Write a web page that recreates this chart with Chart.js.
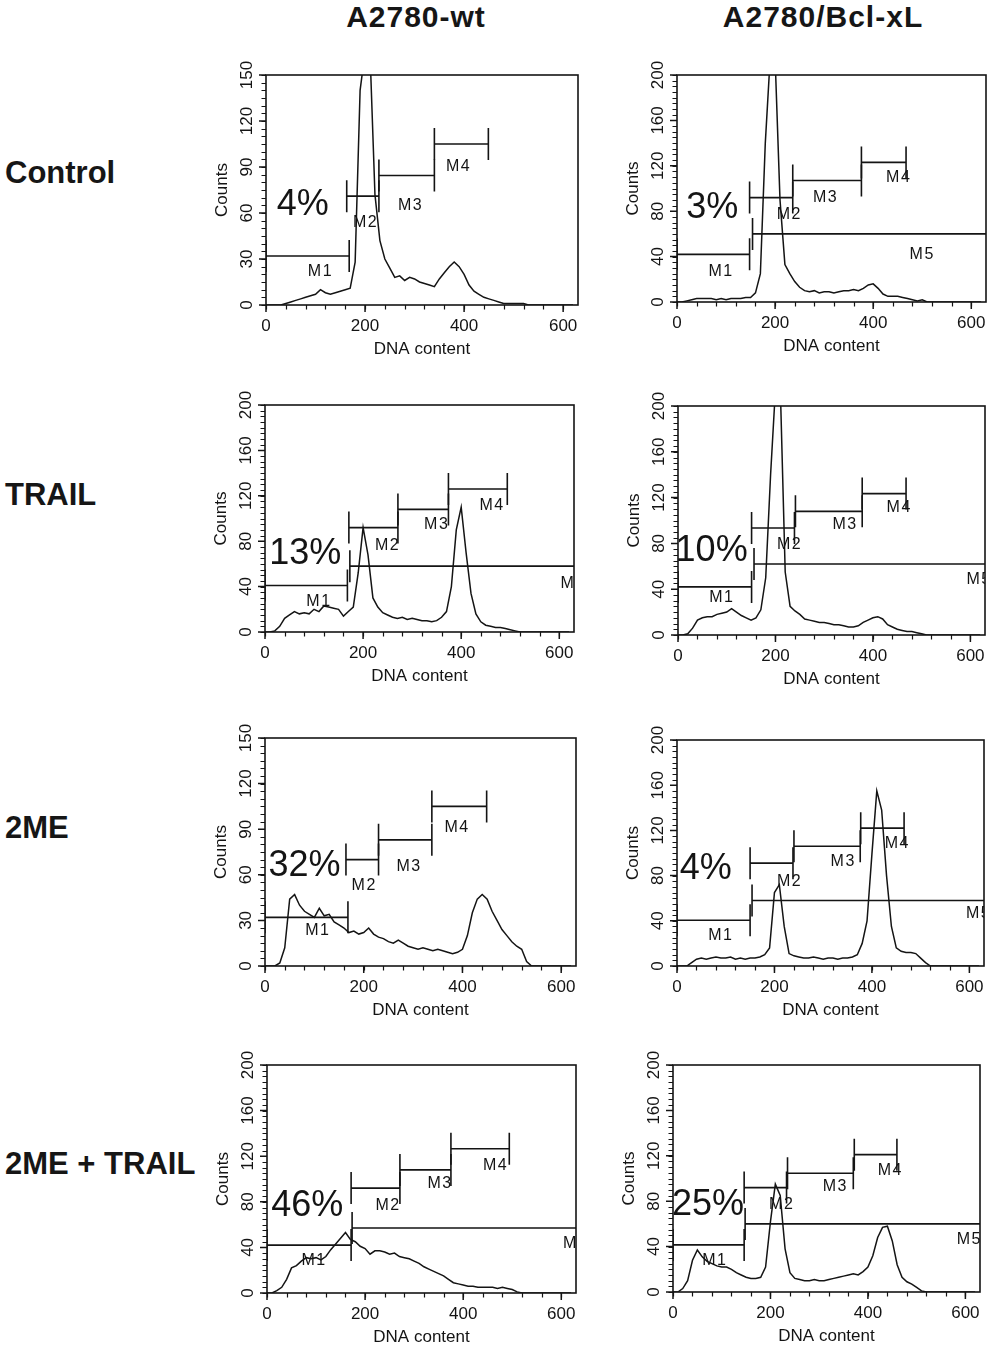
<!DOCTYPE html>
<html lang="en">
<head>
<meta charset="UTF-8">
<title>Cell cycle histograms</title>
<script src="https://cdn.jsdelivr.net/npm/chart.js"></script>
<style>
  html, body { margin: 0; padding: 0; background: #fff; }
  body { width: 991px; height: 1347px; position: relative; overflow: hidden;
         font-family: "Liberation Sans", Arial, Helvetica, sans-serif; color: #161616; }
  .head, .row { position: absolute; font-weight: bold; line-height: 1; white-space: nowrap; }
  .head { font-size: 30px; letter-spacing: 1px; transform: translateX(-50%); }
  .row { font-size: 31px; left: 5px; }
  canvas { position: absolute; }
</style>
</head>
<body>

<script>
// ---- data ----
const colNames = ['A2780-wt', 'A2780/Bcl-xL'];
const rowNames = ['Control', 'TRAIL', '2ME', '2ME + TRAIL'];

const channels = [0,10,20,30,40,50,60,70,80,90,100,110,120,130,140,150,160,170,180,190,
  200,210,220,230,240,250,260,270,280,290,300,310,320,330,340,350,360,370,380,390,
  400,410,420,430,440,450,460,470,480,490,500,510,520,530,540,550,560,570,580,590,
  600,610,620];

const xTicks = [0, 200, 400, 600];
const yTicks150 = [0, 30, 60, 90, 120, 150];
const yTicks200 = [0, 40, 80, 120, 160, 200];

// counts per channel
const ctrlWt  = [0,0,0,0,1,2,3,4,5,6, 7,10,8,7,8,9,10,11,28,140, 165,165,72,42,30,24,18,19,16,18, 17,15,14,13,12,17,21,25,28,25, 20,13,9,7,5,4,3,2,1,1, 1,1,1,0,0,0,0,0,0,0, 0,0,0];
const ctrlBcl = [0,0,1,2,3,3,3,3,2,3, 2,3,3,3,4,4,8,25,140,215, 215,90,33,25,18,13,10,9,10,8, 9,9,8,9,10,10,11,10,12,15, 16,12,7,5,5,5,4,3,2,1, 2,0,0,0,0,0,0,0,0,0, 0,0,0];
const trailWt  = [0,0,1,5,12,15,18,16,17,16, 20,18,23,22,21,20,14,18,22,52, 92,68,30,22,17,15,13,12,13,11, 12,11,10,10,9,10,13,18,40,90, 110,70,34,16,9,6,5,4,4,3, 2,1,0,0,0,0,0,0,0,0, 0,0,0];
const trailBcl = [0,0,1,6,13,15,16,16,18,19, 20,23,20,17,15,13,15,22,50,140, 215,215,55,25,21,18,14,13,12,11, 11,10,9,9,8,7,7,8,11,13, 15,16,14,9,7,5,4,3,3,2, 1,0,0,0,0,0,0,0,0,0, 0,0,0];
const meWt  = [0,0,0,2,12,44,47,40,36,34, 32,38,33,34,29,27,25,22,23,21, 22,25,21,19,18,16,15,17,15,13, 12,11,12,11,10,11,10,9,8,9, 11,20,35,44,47,44,36,30,24,20, 16,13,11,3,0,0,0,0,0,0, 0,0,0];
const meBcl = [0,0,0,3,6,7,6,7,8,7, 7,8,6,7,6,7,7,8,10,16, 65,72,35,11,9,8,7,7,8,7, 6,7,7,6,7,7,8,10,20,40, 99,155,138,80,35,16,13,12,12,11, 7,3,0,0,0,0,0,0,0,0, 0,0,0];
const meTrailWt  = [0,0,2,5,12,22,24,28,31,30, 31,29,32,38,43,48,53,47,45,41, 39,34,37,37,36,34,35,32,31,30, 28,26,23,21,19,17,15,12,9,8, 7,6,6,5,5,5,5,4,5,4, 3,1,0,0,0,0,0,0,0,0, 0,0,0];
const meTrailBcl = [0,0,3,10,28,37,31,27,25,23, 22,22,20,17,15,13,12,12,13,22, 62,95,85,38,17,12,11,10,10,11, 10,10,11,12,13,14,15,16,15,18, 22,32,48,57,58,45,24,13,9,7, 4,1,0,0,0,0,0,0,0,0, 0,0,0];

// marker gates: name, from, to, count level, label x, label count
const gatesCtrlWt = [['M1',0,168,32,110,22], ['M2',163,228,71,201,54], ['M3',228,340,84.5,292,65], ['M4',340,449,105,389,90]];
const gatesCtrlBcl = [['M1',0,148,42,90,27], ['M2',148,236,92,229,77], ['M3',236,376,107,303,92], ['M4',376,467,123,452,110], ['M5',154,1023,60,500,42]];
const gatesTrailWt = [['M1',0,168,41,110,27], ['M2',171,271,92,250,76], ['M3',271,374,108,350,95], ['M4',374,494,126,463,111], ['M5',173,1023,58,628,43]];
const gatesTrailBcl = [['M1',0,151,42,90,33], ['M2',151,239,93.5,229,79], ['M3',241,378,108,343,96], ['M4',378,468,123.5,454,111], ['M5',156,1023,62,618,48]];
const gatesMeWt = [['M1',0,168,32,107,23], ['M2',164,230,70,201,53], ['M3',230,338,83,292,65.5], ['M4',338,449,105,389,91]];
const gatesMeBcl = [['M1',0,150,40.5,90,26.6], ['M2',150,238,91,231,75], ['M3',240,376,106,341,92], ['M4',377,466,122,452,108], ['M5',154,1023,58,619,46]];
const gatesMeTrailWt = [['M1',0,171.5,42,96,28], ['M2',171.5,271,92,247,77], ['M3',271,375,108,353,95.6], ['M4',375,494,126.5,466,112], ['M5',173.5,1023,57,629,43]];
const gatesMeTrailBcl = [['M1',0,146,41.5,86,28], ['M2',146,233,92,223,77], ['M3',235,370,104.6,333,93], ['M4',372,459.5,121,446,107], ['M5',148,1023,60,608,46]];

const pctLabels = ['4%', '3%', '13%', '10%', '32%', '4%', '46%', '25%'];
const pctAt = [[74,65], [72,83], [82,68.5], [69,73], [80,65.5], [59,86], [82,76], [72,77]];

// ---- layout ----
const INK = '#141414';
const FONT = '"Liberation Sans", Arial, Helvetica, sans-serif';
const X_MAX = 630;
const X_MINOR = 40, Y_MINOR = 5;
const AXIS_W = 62, AXIS_H = 62, PAD_T = 18, PAD_R = 4, BAR = 16;

const headPos = [[416, 2], [823, 2]];
const rowTops = [157, 479, 812, 1148];

const panels = [
  { counts: ctrlWt,     yTicks: yTicks150, gates: gatesCtrlWt,     box: [266, 75, 578, 305] },
  { counts: ctrlBcl,    yTicks: yTicks200, gates: gatesCtrlBcl,    box: [677, 75, 986, 302] },
  { counts: trailWt,    yTicks: yTicks200, gates: gatesTrailWt,    box: [265, 405, 574, 632] },
  { counts: trailBcl,   yTicks: yTicks200, gates: gatesTrailBcl,   box: [678, 406, 985, 635] },
  { counts: meWt,       yTicks: yTicks150, gates: gatesMeWt,       box: [265, 738, 576, 966] },
  { counts: meBcl,      yTicks: yTicks200, gates: gatesMeBcl,      box: [677, 740, 984, 966] },
  { counts: meTrailWt,  yTicks: yTicks200, gates: gatesMeTrailWt,  box: [267, 1065, 576, 1293] },
  { counts: meTrailBcl, yTicks: yTicks200, gates: gatesMeTrailBcl, box: [673, 1065, 980, 1292] }
];

colNames.forEach((name, i) => {
  const d = document.createElement('div');
  d.className = 'head';
  d.textContent = name;
  d.style.left = headPos[i][0] + 'px';
  d.style.top = headPos[i][1] + 'px';
  document.body.appendChild(d);
});
rowNames.forEach((name, i) => {
  const d = document.createElement('div');
  d.className = 'row';
  d.textContent = name;
  d.style.top = rowTops[i] + 'px';
  document.body.appendChild(d);
});

// box, tick marks, rotated y labels, % text and the M gates
const flowPlugin = {
  id: 'flow',
  afterDatasetsDraw(chart, args, opts) {
    const { ctx, chartArea: a, scales: { x, y } } = chart;
    ctx.save();
    ctx.strokeStyle = INK;
    ctx.fillStyle = INK;

    ctx.lineWidth = 1.6;
    ctx.strokeRect(a.left, a.top, a.right - a.left, a.bottom - a.top);

    // small ticks along both axes
    ctx.lineWidth = 1.2;
    ctx.beginPath();
    for (let v = 0; v <= X_MAX; v += X_MINOR) {
      const px = Math.round(x.getPixelForValue(v)) + 0.5;
      ctx.moveTo(px, a.bottom); ctx.lineTo(px, a.bottom + 4.5);
    }
    const yTop = opts.yTicks[opts.yTicks.length - 1];
    for (let v = 0; v <= yTop; v += Y_MINOR) {
      const py = Math.round(y.getPixelForValue(v)) + 0.5;
      ctx.moveTo(a.left, py); ctx.lineTo(a.left - 4.5, py);
    }
    ctx.stroke();

    // labelled ticks are longer
    ctx.lineWidth = 1.5;
    ctx.beginPath();
    xTicks.forEach(v => {
      const px = x.getPixelForValue(v);
      ctx.moveTo(px, a.bottom); ctx.lineTo(px, a.bottom + 7);
    });
    opts.yTicks.forEach(v => {
      const py = y.getPixelForValue(v);
      ctx.moveTo(a.left, py); ctx.lineTo(a.left - 7, py);
    });
    ctx.stroke();

    ctx.font = '17px ' + FONT;
    ctx.textAlign = 'center';
    ctx.textBaseline = 'middle';
    opts.yTicks.forEach(v => {
      ctx.save();
      ctx.translate(a.left - 19, y.getPixelForValue(v));
      ctx.rotate(-Math.PI / 2);
      ctx.fillText(String(v), 0, 0);
      ctx.restore();
    });

    ctx.font = '36px ' + FONT;
    ctx.fillText(opts.pct, x.getPixelForValue(opts.pctAt[0]), y.getPixelForValue(opts.pctAt[1]));

    ctx.beginPath();
    ctx.rect(a.left, a.top, a.right - a.left, a.bottom - a.top);
    ctx.clip();
    ctx.lineWidth = 1.6;
    ctx.font = '16px ' + FONT;
    ctx.letterSpacing = '1.5px';
    opts.gates.forEach(([name, from, to, level, lx, ly]) => {
      const x1 = x.getPixelForValue(from), x2 = x.getPixelForValue(to), py = y.getPixelForValue(level);
      ctx.beginPath();
      ctx.moveTo(x1, py); ctx.lineTo(x2, py);
      ctx.moveTo(x1, py - BAR); ctx.lineTo(x1, py + BAR);
      ctx.moveTo(x2, py - BAR); ctx.lineTo(x2, py + BAR);
      ctx.stroke();
      ctx.fillText(name, x.getPixelForValue(lx), y.getPixelForValue(ly));
    });
    ctx.restore();
  }
};

panels.forEach((p, i) => {
  const [l, t, r, b] = p.box;
  const cv = document.createElement('canvas');
  cv.width = (r - l) + AXIS_W + PAD_R;
  cv.height = (b - t) + PAD_T + AXIS_H;
  cv.style.left = (l - AXIS_W) + 'px';
  cv.style.top = (t - PAD_T) + 'px';
  document.body.appendChild(cv);

  const yMax = p.yTicks[p.yTicks.length - 1];

  new Chart(cv, {
    type: 'line',
    data: {
      datasets: [{
        data: channels.map((c, k) => ({ x: c, y: p.counts[k] })),
        borderColor: INK,
        borderWidth: 1.5,
        pointRadius: 0,
        tension: 0,
        fill: false
      }]
    },
    options: {
      responsive: false,
      animation: false,
      devicePixelRatio: 1,
      layout: { padding: { top: PAD_T, right: PAD_R, bottom: 0, left: 0 } },
      plugins: {
        legend: { display: false },
        tooltip: { enabled: false },
        flow: { yTicks: p.yTicks, gates: p.gates, pct: pctLabels[i], pctAt: pctAt[i] }
      },
      scales: {
        x: {
          type: 'linear', min: 0, max: X_MAX,
          afterFit: s => { s.height = AXIS_H; },
          afterBuildTicks: s => { s.ticks = xTicks.map(v => ({ value: v })); },
          grid: { display: false },
          border: { display: false },
          ticks: {
            autoSkip: false, maxRotation: 0, minRotation: 0, padding: 3,
            color: INK, font: { family: FONT, size: 17 },
            callback: v => String(v)
          },
          title: { display: true, text: 'DNA content', color: INK, font: { family: FONT, size: 17 }, padding: { top: 0, bottom: 7 } }
        },
        y: {
          type: 'linear', min: 0, max: yMax,
          afterFit: s => { s.width = AXIS_W; },
          grid: { display: false },
          border: { display: false },
          ticks: { display: false },
          title: { display: true, text: 'Counts', color: INK, font: { family: FONT, size: 17 }, padding: { top: 8, bottom: 0 } }
        }
      }
    },
    plugins: [flowPlugin]
  });
});
</script>
</body>
</html>
